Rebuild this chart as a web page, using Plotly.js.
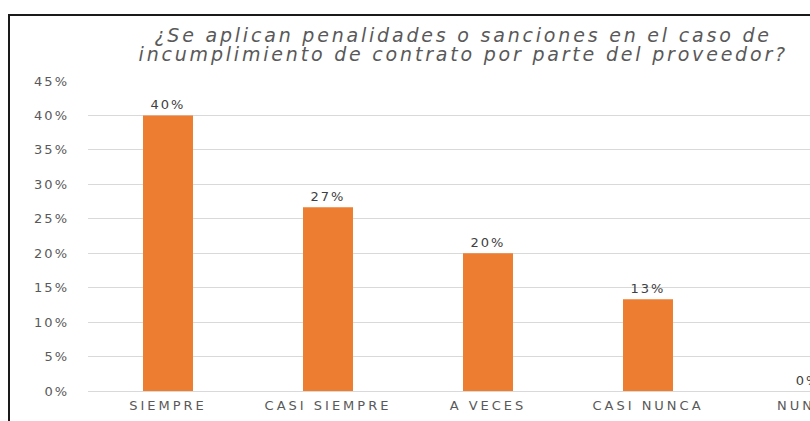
<!DOCTYPE html>
<html>
<head>
<meta charset="utf-8">
<script src="https://cdn.plot.ly/plotly-3.0.1.min.js"></script>
<style>
  html, body { margin: 0; padding: 0; width: 810px; height: 421px; overflow: hidden; background: #fff; }
  #frame { position: absolute; left: 8px; top: 14px; width: 810px; height: 420px;
           border-left: 2px solid #1a1a1a; border-top: 2px solid #1a1a1a; background: #fff; }
  #chart { position: absolute; left: 0; top: 0; }
  #chart .ytick text { letter-spacing: 2px; }
  #chart text.bartext { letter-spacing: 2px; }
  #chart .xtick text { letter-spacing: 3px; }
  #chart .annotation-text { letter-spacing: 2.8px; }
</style>
</head>
<body>
<div id="frame"><div id="chart"></div></div>
<script>
const categories = ["SIEMPRE", "CASI SIEMPRE", "A VECES", "CASI NUNCA", "NUNCA"];
const shares = [0.40, 0.2667, 0.20, 0.1333, 0.0];
const titleLines = ["¿Se aplican penalidades o sanciones en el caso de",
                    "incumplimiento de contrato por parte del proveedor?"];

const W = 800, H = 405;
const L = 78, T = 65, B = 30, R = 0;
const plotW = W - L - R;
const plotH = H - T - B;
const bandPx = 160;

const trace = {
  type: "bar",
  x: categories,
  y: shares,
  marker: { color: "#ED7D31" },
  texttemplate: "%{y:.0%}",
  textposition: "outside",
  cliponaxis: false,
  textfont: { family: "DejaVu Sans, sans-serif", size: 13, color: "#404040" },
  hoverinfo: "skip"
};

const titleFont = { family: "DejaVu Sans, sans-serif", size: 19, color: "#595959", style: "italic" };
const titleCenterX = (463 - 10 - L) / plotW;

const layout = {
  width: W, height: H,
  margin: { l: L, r: R, t: T, b: B, pad: 0 },
  paper_bgcolor: "#ffffff",
  plot_bgcolor: "#ffffff",
  bargap: 0.6875,
  showlegend: false,
  annotations: [
    { text: titleLines[0], xref: "paper", yref: "paper", x: titleCenterX, y: 1 + 46 / plotH,
      xanchor: "center", yanchor: "middle", showarrow: false, font: titleFont },
    { text: titleLines[1], xref: "paper", yref: "paper", x: titleCenterX, y: 1 + 27 / plotH,
      xanchor: "center", yanchor: "middle", showarrow: false, font: titleFont }
  ],
  xaxis: {
    type: "category",
    range: [-0.5, -0.5 + plotW / bandPx],
    showgrid: false,
    showline: false,
    zeroline: false,
    ticks: "",
    tickfont: { family: "DejaVu Sans, sans-serif", size: 13, color: "#595959" },
    ticklabelstandoff: 5
  },
  yaxis: {
    range: [0, 0.45],
    dtick: 0.05,
    tickformat: ".0%",
    showgrid: true,
    gridcolor: "#D9D9D9",
    gridwidth: 1,
    zeroline: true,
    zerolinecolor: "#D9D9D9",
    zerolinewidth: 1,
    showline: false,
    ticks: "",
    tickfont: { family: "DejaVu Sans, sans-serif", size: 13, color: "#595959" },
    ticklabelstandoff: 18
  }
};

Plotly.newPlot("chart", [trace], layout, { displayModeBar: false, staticPlot: true });
</script>
</body>
</html>
